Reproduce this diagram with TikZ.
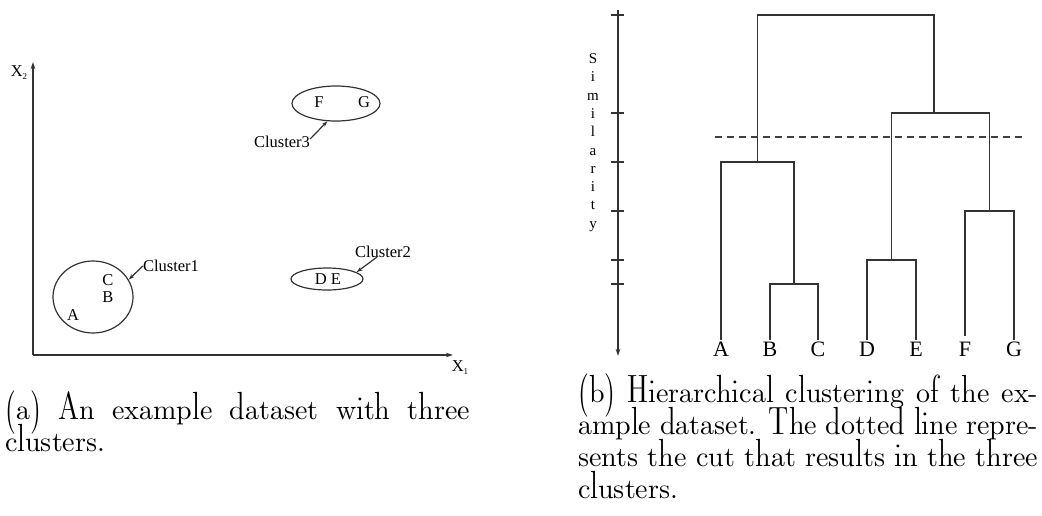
\documentclass[tikz,border=0pt]{standalone}
\usepackage{fontspec}
\setmainfont{Liberation Serif}
\usetikzlibrary{arrows.meta,shapes.geometric}
\newcommand{\capfont}{\fontfamily{lmdh}\selectfont\fontsize{28}{32}\selectfont}
\begin{document}
\begin{tikzpicture}[x=1pt,y=-1pt,
  ln/.style={draw=black!80,line width=1.2pt},
  arr/.style={ln,-{Stealth[length=7pt,width=4.5pt]}},
  lbl/.style={inner sep=0pt,font=\fontsize{16.5}{18}\selectfont},
  leaf/.style={inner sep=1.5pt,font=\fontsize{22}{24}\selectfont},
  caprow/.style={anchor=base west,inner sep=0pt,font=\capfont},
  cl/.style={draw=black!80,line width=1.2pt,ellipse,inner sep=0pt}]
\useasboundingbox (0,0) rectangle (1042,515);
% ---------- panel (a)
\coordinate (O) at (33,355);
\coordinate (Ytop) at (33,62);
\coordinate (Xend) at (453,355);
\draw[arr] (O) -- (Ytop);
\draw[arr] (O) -- (Xend);
\node[lbl] (x2) at (19,73) {X\raisebox{-3pt}{\fontsize{9}{10}\selectfont 2}};
\node[lbl] (x1) at (460,368) {X\raisebox{-3pt}{\fontsize{9}{10}\selectfont 1}};
% clusters
\node[cl,minimum width=80pt,minimum height=72pt] (c1) at (93,297) {};
\node[cl,minimum width=72pt,minimum height=22pt] (c2) at (327,279) {};
\node[cl,minimum width=88pt,minimum height=35pt] (c3) at (336,103.5) {};
\node[lbl] (pa) at (73,315) {A};
\node[lbl] (pb) at (108,297) {B};
\node[lbl] (pc) at (108,280) {C};
\node[lbl] (pde) at (328,279) {D E};
\node[lbl] (pf) at (319,102) {F};
\node[lbl] (pg) at (364,102) {G};
\node[lbl] (l1) at (171,266) {Cluster1};
\node[lbl] (l2) at (383,252) {Cluster2};
\node[lbl] (l3) at (282,142) {Cluster3};
\draw[ln,-{Stealth[length=6pt,width=4pt]}] (l1.west) -- (c1.26);
\draw[ln,-{Stealth[length=6pt,width=4pt]}] ([xshift=-6pt,yshift=1pt]l2.south) -- (c2.13);
\draw[ln,-{Stealth[length=6pt,width=4pt]}] ([yshift=3pt]l3.east) -- (c3.-116);
% ---------- panel (b)
\coordinate (Stop) at (618,10);
\coordinate (Sbot) at (618,356);
\draw[arr] (Stop) -- (Sbot);
\foreach \t in {15,113,162,211,260,284}{
  \draw[ln] (611,\t) -- (624,\t);
}
\node[inner sep=0pt,align=center,font=\fontsize{15}{18.3}\selectfont] (sim) at (593,142.5)
  {S\\i\\m\\i\\l\\a\\r\\i\\t\\y};
\node[leaf] (la) at (721,349) {A};
\node[leaf] (lb) at (770,349) {B};
\node[leaf] (lc) at (818,349) {C};
\node[leaf] (ld) at (867,349) {D};
\node[leaf] (le) at (916,349) {E};
\node[leaf] (lf) at (965,349) {F};
\node[leaf] (lg) at (1014,349) {G};
\coordinate (bc) at (794,284);
\coordinate (abc) at (757.5,162);
\coordinate (de) at (891.5,260);
\coordinate (fg) at (989.5,211);
\coordinate (defg) at (934,113);
\coordinate (top) at (846,15);
\draw[ln] (lb.north) |- (bc) -| (lc.north);
\draw[ln] (la.north) |- (abc) -| (bc);
\draw[ln] (ld.north) |- (de) -| (le.north);
\draw[ln] ([yshift=4pt]lf.north) |- (fg) -| (lg.north);
\draw[ln] (de) |- (defg) -| (fg);
\draw[ln] (abc) |- (top) -| (defg);
\coordinate (cut1) at (715,137);
\coordinate (cut2) at (1025,137);
\draw[draw=black!75,line width=1.2pt,dash pattern=on 7pt off 5pt] (cut1) -- (cut2);
% ---------- captions
\node[caprow] (ca1) at (5,419) {\makebox[465pt][s]{(a) An example dataset with three}};
\node[caprow] (ca2) at (5,451) {clusters.};
\node[caprow] (cb1) at (578,402) {\makebox[460pt][s]{(b) Hierarchical clustering of the ex-}};
\node[caprow] (cb2) at (578,434) {\makebox[460pt][s]{ample dataset. The dotted line repre-}};
\node[caprow] (cb3) at (578,466) {\makebox[460pt][s]{sents the cut that results in the three}};
\node[caprow] (cb4) at (578,498) {clusters.};
\end{tikzpicture}
\end{document}
